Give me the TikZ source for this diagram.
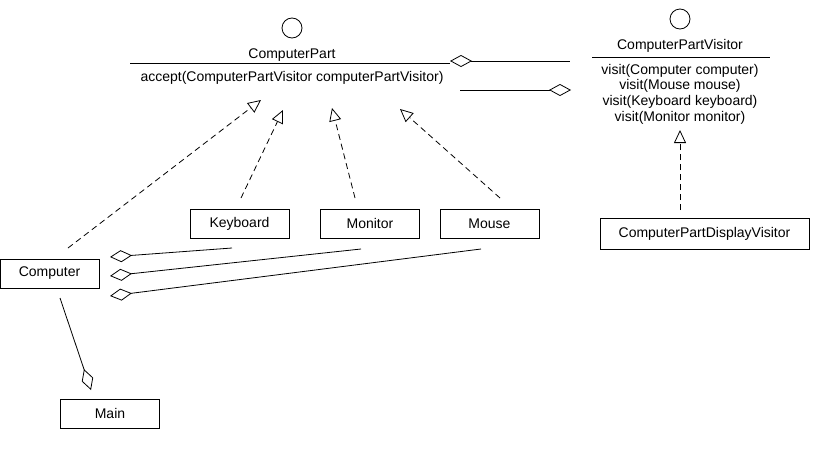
\documentclass[tikz,border=0pt]{standalone}
\usepackage{fontspec}
\setmainfont{Liberation Sans}
\usetikzlibrary{arrows.meta}
\begin{document}
\begin{tikzpicture}[x=1pt,y=-1pt,
    every node/.style={font=\fontsize{14}{15.7}\selectfont},
    cls/.style={draw,line width=0.8pt,minimum width=99pt,minimum height=29pt,inner sep=0pt},
    icon/.style={draw,circle,line width=0.8pt,minimum size=20pt,inner sep=0pt},
    realize/.style={line width=0.8pt,dash pattern=on 6pt off 4pt,-{Triangle[open,length=13pt,width=12pt]}},
    aggr/.style={line width=0.8pt,{Diamond[open,length=22pt,width=12pt]}-}]
    \useasboundingbox (0,0) rectangle (836,450);

    % interface ComputerPart
    \node[icon] (part-icon) at (292,28) {};
    \node (part) at (292,55) {ComputerPart};
    \draw[line width=0.8pt] (130,63) -- (450,63);
    \node (part-op) at (292,78) {accept(ComputerPartVisitor computerPartVisitor)};

    % interface ComputerPartVisitor
    \node[icon] (visitor-icon) at (680,19) {};
    \node (visitor) at (680,46) {ComputerPartVisitor};
    \draw[line width=0.8pt] (592,57) -- (770,57);
    \node[align=center] (visitor-ops) at (680,94)
        {visit(Computer computer)\\visit(Mouse mouse)\\visit(Keyboard keyboard)\\visit(Monitor monitor)};

    % classes
    \node[cls] (keyboard) at (239.5,223.5) {Keyboard};
    \node[cls] (monitor)  at (370,223.5)   {Monitor};
    \node[cls] (mouse)    at (489.5,223.5) {Mouse};
    \node[cls] (computer) at (49.5,273.5)  {Computer};
    \node[cls] (main)     at (110,413.5)   {Main};
    \node[cls,minimum width=209pt,minimum height=31pt] (display) at (704.5,233.5) {ComputerPartDisplayVisitor};

    % connector ends
    \coordinate (part-in1) at (261,100);
    \coordinate (part-in2) at (283,110);
    \coordinate (part-in3) at (332,108);
    \coordinate (part-in4) at (400,109);
    \coordinate (visitor-in) at (680,130);
    \coordinate (computer-out) at (68,248);
    \coordinate (keyboard-out) at (241,198);
    \coordinate (monitor-out) at (355,198);
    \coordinate (mouse-out) at (500,198);
    \coordinate (display-out) at (680,210);
    \coordinate (part-agg) at (450,61);
    \coordinate (visitor-agg) at (570,61);
    \coordinate (part-ref) at (460,90);
    \coordinate (visitor-ref) at (571,90);
    \coordinate (computer-agg1) at (110,257);
    \coordinate (computer-agg2) at (110,276);
    \coordinate (computer-agg3) at (110,296);
    \coordinate (keyboard-ref) at (232,248);
    \coordinate (monitor-ref) at (361,249);
    \coordinate (mouse-ref) at (481,249);
    \coordinate (computer-ref) at (60,298);
    \coordinate (main-agg) at (91,390);

    % realizations
    \draw[realize] (computer-out) -- (part-in1);
    \draw[realize] (keyboard-out) -- (part-in2);
    \draw[realize] (monitor-out) -- (part-in3);
    \draw[realize] (mouse-out) -- (part-in4);
    \draw[realize] (display-out) -- (visitor-in);

    % aggregations
    \draw[aggr] (part-agg) -- (visitor-agg);
    \draw[aggr] (visitor-ref) -- (part-ref);
    \draw[aggr] (computer-agg1) -- (keyboard-ref);
    \draw[aggr] (computer-agg2) -- (monitor-ref);
    \draw[aggr] (computer-agg3) -- (mouse-ref);
    \draw[aggr] (main-agg) -- (computer-ref);
\end{tikzpicture}
\end{document}
